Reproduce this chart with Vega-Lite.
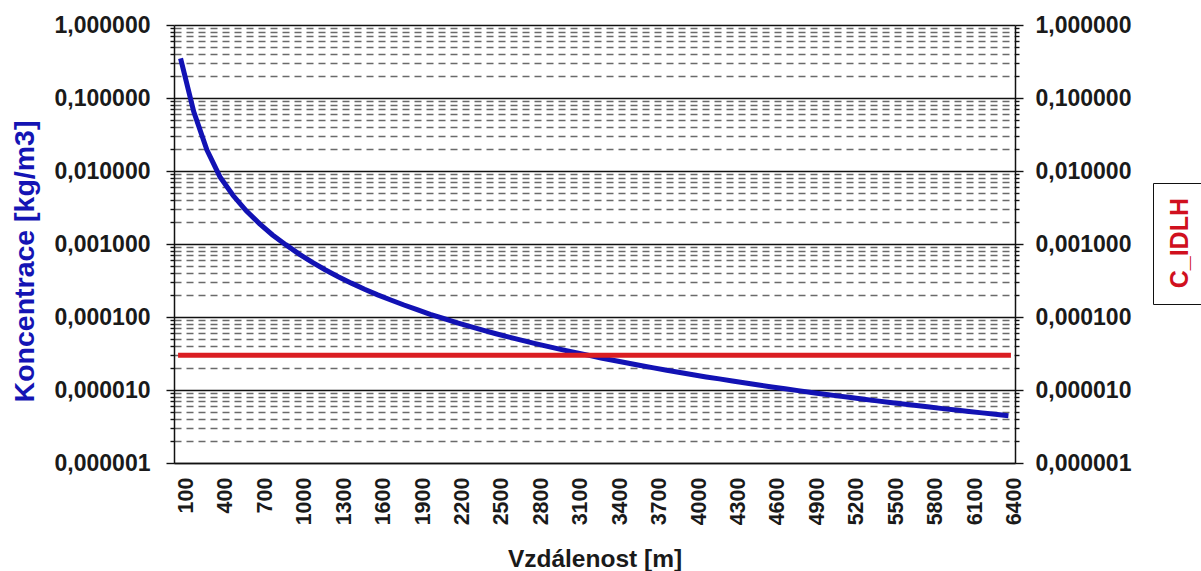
{
  "$schema": "https://vega.github.io/schema/vega-lite/v6.json",
  "width": 841,
  "height": 438,
  "autosize": "none",
  "padding": {"left": 174, "top": 25, "right": 186, "bottom": 108},
  "background": "white",
  "config": {"view": {"stroke": null}, "font": "Liberation Sans"},
  "data": {
    "values": [
      {"d": 100, "c": 0.35, "idlh": 0.00003},
      {"d": 200, "c": 0.065, "idlh": 0.00003},
      {"d": 300, "c": 0.0195, "idlh": 0.00003},
      {"d": 400, "c": 0.0083, "idlh": 0.00003},
      {"d": 500, "c": 0.00461, "idlh": 0.00003},
      {"d": 600, "c": 0.00285, "idlh": 0.00003},
      {"d": 700, "c": 0.0019, "idlh": 0.00003},
      {"d": 800, "c": 0.00133, "idlh": 0.00003},
      {"d": 900, "c": 0.00098, "idlh": 0.00003},
      {"d": 1000, "c": 0.000733, "idlh": 0.00003},
      {"d": 1100, "c": 0.000564, "idlh": 0.00003},
      {"d": 1200, "c": 0.000444, "idlh": 0.00003},
      {"d": 1300, "c": 0.000357, "idlh": 0.00003},
      {"d": 1400, "c": 0.000291, "idlh": 0.00003},
      {"d": 1500, "c": 0.000240, "idlh": 0.00003},
      {"d": 1600, "c": 0.000201, "idlh": 0.00003},
      {"d": 1700, "c": 0.000171, "idlh": 0.00003},
      {"d": 1800, "c": 0.000146, "idlh": 0.00003},
      {"d": 1900, "c": 0.000126, "idlh": 0.00003},
      {"d": 2000, "c": 0.000109, "idlh": 0.00003},
      {"d": 2100, "c": 0.0000954, "idlh": 0.00003},
      {"d": 2200, "c": 0.0000839, "idlh": 0.00003},
      {"d": 2300, "c": 0.0000742, "idlh": 0.00003},
      {"d": 2400, "c": 0.0000660, "idlh": 0.00003},
      {"d": 2500, "c": 0.0000590, "idlh": 0.00003},
      {"d": 2600, "c": 0.0000530, "idlh": 0.00003},
      {"d": 2700, "c": 0.0000478, "idlh": 0.00003},
      {"d": 2800, "c": 0.0000432, "idlh": 0.00003},
      {"d": 2900, "c": 0.0000392, "idlh": 0.00003},
      {"d": 3000, "c": 0.0000357, "idlh": 0.00003},
      {"d": 3100, "c": 0.0000327, "idlh": 0.00003},
      {"d": 3200, "c": 0.0000300, "idlh": 0.00003},
      {"d": 3300, "c": 0.0000275, "idlh": 0.00003},
      {"d": 3400, "c": 0.0000254, "idlh": 0.00003},
      {"d": 3500, "c": 0.0000234, "idlh": 0.00003},
      {"d": 3600, "c": 0.0000217, "idlh": 0.00003},
      {"d": 3700, "c": 0.0000201, "idlh": 0.00003},
      {"d": 3800, "c": 0.0000186, "idlh": 0.00003},
      {"d": 3900, "c": 0.0000174, "idlh": 0.00003},
      {"d": 4000, "c": 0.0000162, "idlh": 0.00003},
      {"d": 4100, "c": 0.0000151, "idlh": 0.00003},
      {"d": 4200, "c": 0.0000142, "idlh": 0.00003},
      {"d": 4300, "c": 0.0000133, "idlh": 0.00003},
      {"d": 4400, "c": 0.0000125, "idlh": 0.00003},
      {"d": 4500, "c": 0.0000117, "idlh": 0.00003},
      {"d": 4600, "c": 0.0000110, "idlh": 0.00003},
      {"d": 4700, "c": 0.0000104, "idlh": 0.00003},
      {"d": 4800, "c": 0.00000981, "idlh": 0.00003},
      {"d": 4900, "c": 0.00000927, "idlh": 0.00003},
      {"d": 5000, "c": 0.00000877, "idlh": 0.00003},
      {"d": 5100, "c": 0.00000831, "idlh": 0.00003},
      {"d": 5200, "c": 0.00000788, "idlh": 0.00003},
      {"d": 5300, "c": 0.00000747, "idlh": 0.00003},
      {"d": 5400, "c": 0.00000710, "idlh": 0.00003},
      {"d": 5500, "c": 0.00000675, "idlh": 0.00003},
      {"d": 5600, "c": 0.00000643, "idlh": 0.00003},
      {"d": 5700, "c": 0.00000612, "idlh": 0.00003},
      {"d": 5800, "c": 0.00000583, "idlh": 0.00003},
      {"d": 5900, "c": 0.00000556, "idlh": 0.00003},
      {"d": 6000, "c": 0.00000531, "idlh": 0.00003},
      {"d": 6100, "c": 0.00000508, "idlh": 0.00003},
      {"d": 6200, "c": 0.00000486, "idlh": 0.00003},
      {"d": 6300, "c": 0.00000465, "idlh": 0.00003},
      {"d": 6400, "c": 0.00000445, "idlh": 0.00003}
    ]
  },
  "encoding": {
    "x": {
      "field": "d",
      "type": "quantitative",
      "scale": {"domain": [50, 6450], "nice": false, "zero": false},
      "axis": {
        "values": [100, 400, 700, 1000, 1300, 1600, 1900, 2200, 2500, 2800, 3100, 3400, 3700, 4000, 4300, 4600, 4900, 5200, 5500, 5800, 6100, 6400],
        "format": "d",
        "title": "Vzdálenost [m]",
        "titleFont": "Liberation Sans",
        "titleFontSize": 24.5,
        "titleFontWeight": "bold",
        "titleColor": "#1a1a1a",
        "titlePadding": 23,
        "labelFont": "Liberation Sans",
        "labelFontSize": 21.5,
        "labelFontWeight": "bold",
        "labelColor": "#1a1a1a",
        "labelAngle": 270,
        "labelPadding": 14,
        "labelOffset": 6,
        "labelFlush": false,
        "labelOverlap": false,
        "labelBound": false,
        "ticks": false,
        "tickSize": 0,
        "grid": false,
        "domainColor": "#111111",
        "domainWidth": 1.5
      }
    }
  },
  "layer": [
    {
      "mark": {"type": "line", "color": "#1212B4", "strokeWidth": 5},
      "encoding": {
        "y": {
          "field": "c",
          "type": "quantitative",
          "scale": {"type": "log", "domain": [0.000001, 1], "nice": false},
          "axis": {
            "orient": "left",
            "values": [0.000001, 0.000002, 0.000003, 0.000004, 0.000005, 0.000006, 0.000007, 0.000008, 0.000009, 0.00001, 0.00002, 0.00003, 0.00004, 0.00005, 0.00006, 0.00007, 0.00008, 0.00009, 0.0001, 0.0002, 0.0003, 0.0004, 0.0005, 0.0006, 0.0007, 0.0008, 0.0009, 0.001, 0.002, 0.003, 0.004, 0.005, 0.006, 0.007, 0.008, 0.009, 0.01, 0.02, 0.03, 0.04, 0.05, 0.06, 0.07, 0.08, 0.09, 0.1, 0.2, 0.3, 0.4, 0.5, 0.6, 0.7, 0.8, 0.9, 1],
            "labelExpr": "abs(log(datum.value)/LN10 - round(log(datum.value)/LN10)) < 0.001 ? replace(format(datum.value, '.6f'), '.', ',') : ''",
            "title": "Koncentrace [kg/m3]",
            "titleFont": "Liberation Sans",
            "titleFontSize": 28.5,
            "titleFontWeight": "bold",
            "titleColor": "#1414B4",
            "titlePadding": 15,
            "titleY": 236,
            "labelFont": "Liberation Sans",
            "labelFontSize": 23,
            "labelFontWeight": "bold",
            "labelColor": "#1a1a1a",
            "labelPadding": 16,
            "labelFlush": false,
            "labelOverlap": false,
            "labelBound": false,
            "grid": true,
            "gridColor": {"condition": {"test": "abs(log(datum.value)/LN10 - round(log(datum.value)/LN10)) < 0.001", "value": "#111111"}, "value": "#6a6a6a"},
            "gridDash": {"condition": {"test": "abs(log(datum.value)/LN10 - round(log(datum.value)/LN10)) < 0.001", "value": []}, "value": [7, 5]},
            "gridWidth": 1.4,
            "ticks": true,
            "tickColor": "#111111",
            "tickWidth": 1.4,
            "tickSize": {"condition": {"test": "abs(log(datum.value)/LN10 - round(log(datum.value)/LN10)) < 0.001", "value": 8}, "value": 4},
            "domainColor": "#111111",
            "domainWidth": 1.5
          }
        }
      }
    },
    {
      "mark": {"type": "line", "strokeWidth": 5, "strokeCap": "square"},
      "encoding": {
        "y": {
          "field": "idlh",
          "type": "quantitative",
          "axis": {
            "orient": "right",
            "values": [0.000001, 0.000002, 0.000003, 0.000004, 0.000005, 0.000006, 0.000007, 0.000008, 0.000009, 0.00001, 0.00002, 0.00003, 0.00004, 0.00005, 0.00006, 0.00007, 0.00008, 0.00009, 0.0001, 0.0002, 0.0003, 0.0004, 0.0005, 0.0006, 0.0007, 0.0008, 0.0009, 0.001, 0.002, 0.003, 0.004, 0.005, 0.006, 0.007, 0.008, 0.009, 0.01, 0.02, 0.03, 0.04, 0.05, 0.06, 0.07, 0.08, 0.09, 0.1, 0.2, 0.3, 0.4, 0.5, 0.6, 0.7, 0.8, 0.9, 1],
            "labelExpr": "abs(log(datum.value)/LN10 - round(log(datum.value)/LN10)) < 0.001 ? replace(format(datum.value, '.6f'), '.', ',') : ''",
            "title": null,
            "labelFont": "Liberation Sans",
            "labelFontSize": 23,
            "labelFontWeight": "bold",
            "labelColor": "#1a1a1a",
            "labelPadding": 12,
            "labelFlush": false,
            "labelOverlap": false,
            "labelBound": false,
            "grid": false,
            "ticks": true,
            "tickColor": "#111111",
            "tickWidth": 1.4,
            "tickSize": {"condition": {"test": "abs(log(datum.value)/LN10 - round(log(datum.value)/LN10)) < 0.001", "value": 8}, "value": 4},
            "domainColor": "#111111",
            "domainWidth": 1.5
          }
        },
        "color": {
          "datum": "C_IDLH",
          "type": "nominal",
          "scale": {"domain": ["C_IDLH"], "range": ["#DA1E22"]},
          "legend": {
            "orient": "none",
            "legendX": 979,
            "legendY": 158,
            "title": "C_IDLH",
            "titleOrient": "left",
            "titleAnchor": "start",
            "titleColor": "#D0101E",
            "titleFont": "Liberation Sans",
            "titleFontSize": 25,
            "titleFontWeight": "bold",
            "titlePadding": 0,
            "labelExpr": "''",
            "symbolType": "M0,-1L0,1",
            "symbolSize": 3819,
            "symbolStrokeWidth": 0,
            "symbolOpacity": 0,
            "symbolFillColor": "transparent",
            "symbolStrokeColor": "transparent",
            "labelOffset": 0,
            "strokeColor": "#111111",
            "padding": 15,
            "encode": {"title": {"update": {"angle": {"value": -90}, "align": {"value": "right"}}}}
          }
        }
      }
    }
  ],
  "resolve": {"axis": {"y": "independent"}}
}
